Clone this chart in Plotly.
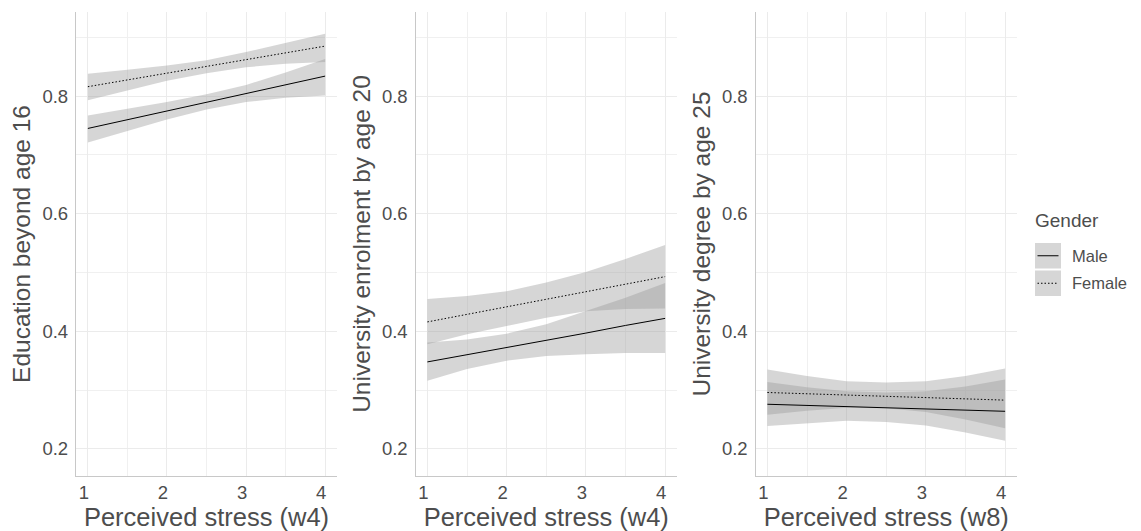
import plotly.graph_objects as go

# ---------------- data ----------------
stress = [1, 1.5, 2, 2.5, 3, 3.5, 4]

# Panel 1: Education beyond age 16 (w4)
p1_male_fit = [0.745, 0.760, 0.775, 0.790, 0.804, 0.819, 0.834]
p1_male_lo = [0.721, 0.741, 0.760, 0.777, 0.790, 0.797, 0.801]
p1_male_hi = [0.767, 0.778, 0.790, 0.803, 0.819, 0.840, 0.863]
p1_female_fit = [0.816, 0.8275, 0.839, 0.850, 0.862, 0.873, 0.885]
p1_female_lo = [0.793, 0.810, 0.826, 0.839, 0.849, 0.855, 0.858]
p1_female_hi = [0.838, 0.845, 0.852, 0.861, 0.875, 0.890, 0.906]

# Panel 2: University enrolment by age 20 (w4)
p2_male_fit = [0.348, 0.360, 0.373, 0.385, 0.397, 0.410, 0.422]
p2_male_lo = [0.316, 0.336, 0.350, 0.358, 0.361, 0.363, 0.363]
p2_male_hi = [0.381, 0.386, 0.396, 0.412, 0.434, 0.457, 0.482]
p2_female_fit = [0.416, 0.429, 0.442, 0.4545, 0.467, 0.480, 0.493]
p2_female_lo = [0.378, 0.395, 0.409, 0.423, 0.434, 0.438, 0.439]
p2_female_hi = [0.455, 0.460, 0.468, 0.483, 0.501, 0.523, 0.547]

# Panel 3: University degree by age 25 (w8)
p3_male_fit = [0.276, 0.274, 0.272, 0.270, 0.268, 0.266, 0.264]
p3_male_lo = [0.239, 0.244, 0.248, 0.246, 0.240, 0.228, 0.214]
p3_male_hi = [0.314, 0.305, 0.298, 0.296, 0.298, 0.306, 0.318]
p3_female_fit = [0.296, 0.294, 0.292, 0.290, 0.288, 0.285, 0.283]
p3_female_lo = [0.258, 0.265, 0.270, 0.269, 0.263, 0.250, 0.235]
p3_female_hi = [0.335, 0.324, 0.315, 0.313, 0.315, 0.324, 0.337]

y_titles = ["Education beyond age 16", "University enrolment by age 20", "University degree by age 25"]
x_titles = ["Perceived stress (w4)", "Perceived stress (w4)", "Perceived stress (w8)"]
y_ticks = [0.2, 0.4, 0.6, 0.8]
x_ticks = [1, 2, 3, 4]
legend_title = "Gender"
legend_labels = ["Male", "Female"]

panels = [
    (p1_male_fit, p1_male_lo, p1_male_hi, p1_female_fit, p1_female_lo, p1_female_hi),
    (p2_male_fit, p2_male_lo, p2_male_hi, p2_female_fit, p2_female_lo, p2_female_hi),
    (p3_male_fit, p3_male_lo, p3_male_hi, p3_female_fit, p3_female_lo, p3_female_hi),
]

# ---------------- styling ----------------
W, H = 1141, 531
FONT = "Liberation Sans, Arial, sans-serif"
TXT = "#4d4d4d"
BAND = "rgba(153,153,153,0.4)"
FEMALE_DASH = "1.5px,2px"

x_dom_px = [(76, 337), (415.5, 677), (755.5, 1017)]
y_dom_px = (12, 476)

fig = go.Figure()

for i, (mf, ml, mh, ff, fl, fh) in enumerate(panels):
    xa = "x" if i == 0 else f"x{i+1}"
    ya = "y" if i == 0 else f"y{i+1}"
    for lo, hi in ((ml, mh), (fl, fh)):
        fig.add_trace(go.Scatter(
            x=stress + stress[::-1], y=lo + hi[::-1], fill="toself",
            fillcolor=BAND, line=dict(width=0), mode="lines",
            hoverinfo="skip", showlegend=False, xaxis=xa, yaxis=ya))
    fig.add_trace(go.Scatter(x=stress, y=mf, mode="lines", name="Male",
                             line=dict(color="black", width=1),
                             showlegend=False, xaxis=xa, yaxis=ya))
    fig.add_trace(go.Scatter(x=stress, y=ff, mode="lines", name="Female",
                             line=dict(color="black", width=1, dash=FEMALE_DASH),
                             showlegend=False, xaxis=xa, yaxis=ya))

layout = dict(
    width=W, height=H, margin=dict(l=0, r=0, t=0, b=0),
    paper_bgcolor="white", plot_bgcolor="white",
    font=dict(family=FONT, color=TXT), showlegend=False,
)
for i in range(3):
    sx = "" if i == 0 else str(i + 1)
    x0, x1 = x_dom_px[i]
    layout["xaxis" + sx] = dict(
        domain=[x0 / W, x1 / W], range=[0.85, 4.15], anchor="y" + sx,
        tickvals=x_ticks, ticktext=[str(v) for v in x_ticks],
        tickfont=dict(size=18.5, color=TXT), ticks="", ticklabelstandoff=0,
        ticklabelshift=-4,
        showgrid=True, gridcolor="#ebebeb", gridwidth=1,
        minor=dict(tickvals=[1.5, 2.5, 3.5], showgrid=True, gridcolor="#f0f0f0", gridwidth=1),
        showline=True, linecolor="#c8c8c8", linewidth=1.3, zeroline=False,
        title=dict(text=x_titles[i], font=dict(size=25.5, color=TXT), standoff=0),
    )
    layout["yaxis" + sx] = dict(
        domain=[1 - y_dom_px[1] / H, 1 - y_dom_px[0] / H], range=[0.154, 0.943],
        anchor="x" + sx,
        tickvals=y_ticks, ticktext=[f"{v:.1f}" for v in y_ticks],
        tickfont=dict(size=18.5, color=TXT), ticks="", ticklabelstandoff=3,
        showgrid=True, gridcolor="#ebebeb", gridwidth=1,
        minor=dict(tickvals=[0.3, 0.5, 0.7, 0.9], showgrid=True, gridcolor="#f0f0f0", gridwidth=1),
        showline=True, linecolor="#c8c8c8", linewidth=1.3, zeroline=False,
        title=dict(text=y_titles[i], font=dict(size=24.5, color=TXT), standoff=4),
    )

# ---------------- manual legend (ggplot style) ----------------
def px(xp):
    return xp / W

def py(yp):
    return 1 - yp / H

shapes = []
annotations = []
annotations.append(dict(text=legend_title, x=px(1033), y=py(220), xref="paper", yref="paper",
                        xanchor="left", yanchor="middle", showarrow=False,
                        font=dict(size=19, color=TXT, family=FONT)))
key_boxes = [(243, 268.5), (270.5, 296)]
for (t, b), lab, dash in zip(key_boxes, legend_labels, ["solid", FEMALE_DASH]):
    shapes.append(dict(type="rect", xref="paper", yref="paper",
                       x0=px(1035), x1=px(1061), y0=py(b), y1=py(t),
                       fillcolor=BAND, line=dict(width=0), layer="above"))
    mid = (t + b) / 2
    shapes.append(dict(type="line", xref="paper", yref="paper",
                       x0=px(1037.5), x1=px(1058.5), y0=py(mid), y1=py(mid),
                       line=dict(color="black", width=1, dash=dash), layer="above"))
    annotations.append(dict(text=lab, x=px(1070), y=py(mid), xref="paper", yref="paper",
                            xanchor="left", yanchor="middle", showarrow=False,
                            font=dict(size=16.5, color=TXT, family=FONT)))

layout["shapes"] = shapes
layout["annotations"] = annotations
fig.update_layout(**layout)

fig.write_html("out.html")
